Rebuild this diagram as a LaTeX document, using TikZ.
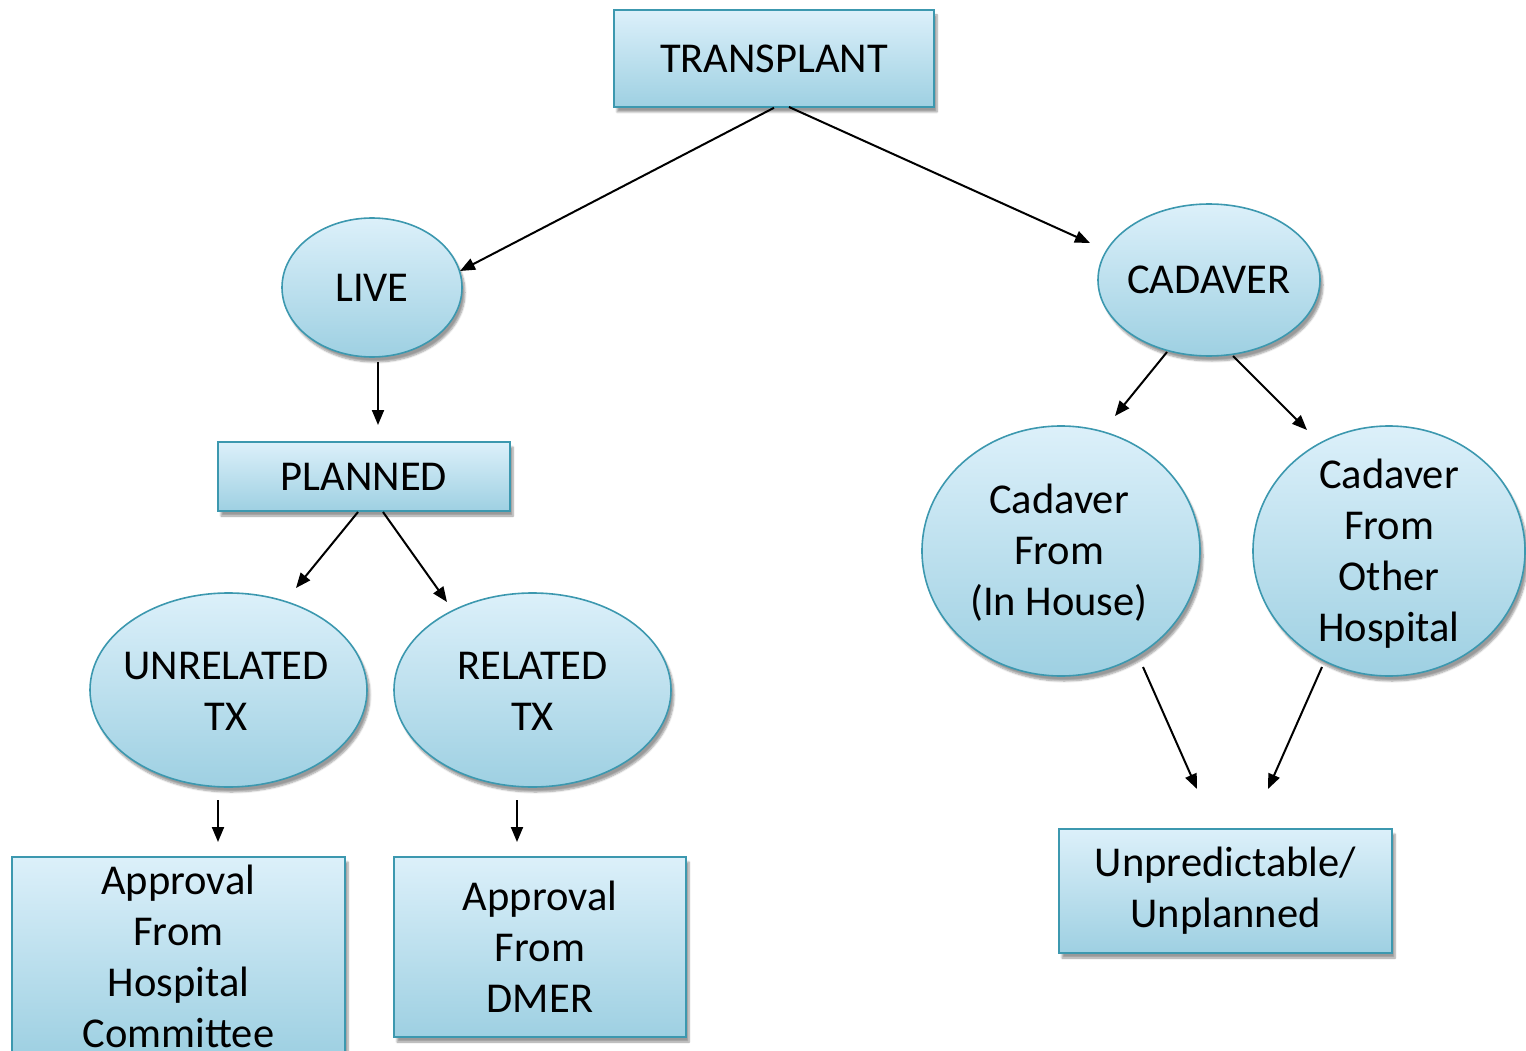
\documentclass[tikz,border=0pt]{standalone}
\usepackage{fontspec}
\setmainfont{Carlito}
\usetikzlibrary{shapes.geometric,arrows.meta,shadows.blur,calc}
\definecolor{boxtop}{RGB}{220,240,250}
\definecolor{boxbot}{RGB}{158,208,226}
\definecolor{boxline}{RGB}{60,152,175}
\tikzset{
  base/.style={draw=boxline, line width=1.6pt, top color=boxtop, bottom color=boxbot,
    align=center, inner sep=0pt, font=\fontsize{42.5}{51}\selectfont,
    blur shadow={shadow xshift=3pt, shadow yshift=-5pt, shadow blur steps=6, shadow opacity=40}},
  rbox/.style={base, rectangle},
  oval/.style={base, ellipse},
  ovaltext/.style={align=center, inner sep=0pt, font=\fontsize{42.5}{51}\selectfont},
  link/.style={line width=2pt, -{Triangle[length=15pt,width=12pt]}}
}
\begin{document}
\begin{tikzpicture}[x=1pt, y=-1pt]
  \useasboundingbox (0,0) rectangle (1526,1051);
  \clip (0,0) rectangle (1526,1051);

  % boxes
  \node[rbox, minimum width=320pt, minimum height=97pt] (transplant) at (774,58.5) {TRANSPLANT};
  \node[rbox, minimum width=292pt, minimum height=69pt] (planned) at (364,476.5) {PLANNED};
  \node[rbox, minimum width=333pt, minimum height=198pt] (appcom) at (178.5,956) {Approval\\From\\Hospital\\Committee};
  \node[rbox, minimum width=292pt, minimum height=180pt] (appdmer) at (540,947) {Approval\\From\\DMER};
  \node[rbox, minimum width=333pt, minimum height=124pt] (unplan) at (1225.5,891) {Unpredictable/\\Unplanned};

  % ellipses (outline first, then the text on top, so the text does not size the shape)
  \node[oval, minimum width=180pt, minimum height=139pt] (live) at (372,287.5) {};
  \node[ovaltext] (live-t) at (live) {LIVE};
  \node[oval, minimum width=222pt, minimum height=152pt] (cadaver) at (1209,280) {};
  \node[ovaltext] (cadaver-t) at (cadaver) {CADAVER};
  \node[oval, minimum width=277pt, minimum height=194pt] (unrel) at (228.5,690) {};
  \node[ovaltext] (unrel-t) at (226,691) {UNRELATED\\TX};
  \node[oval, minimum width=277pt, minimum height=194pt] (rel) at (532.5,690) {};
  \node[ovaltext] (rel-t) at (532.5,691) {RELATED\\TX};
  \node[oval, minimum width=278pt, minimum height=250pt] (inhouse) at (1061,551) {};
  \node[ovaltext] (inhouse-t) at (1059,553) {Cadaver\\From\\(In House)};
  \node[oval, minimum width=272pt, minimum height=250pt] (other) at (1389,551) {};
  \node[ovaltext] (other-t) at (1389,554) {Cadaver\\From\\Other\\Hospital};

  % connectors
  \draw[link] (transplant.south) -- ($(live)+(88,-16.5)$);
  \draw[link] ($(transplant)+(15,48.5)$) -- ($(cadaver)+(-119,-37)$);
  \draw[link] ($(live)+(6,74.5)$) -- ($(planned)+(14,-51.5)$);
  \draw[link] ($(planned)+(-6,35.5)$) -- ($(unrel)+(67.5,-102)$);
  \draw[link] ($(planned)+(19,35.5)$) -- ($(rel)+(-85.5,-88)$);
  \draw[link] ($(unrel)+(-10.5,110)$) -- ($(appcom)+(39.5,-114)$);
  \draw[link] ($(rel)+(-15.5,110)$) -- ($(appdmer)+(-23,-105)$);
  \draw[link] ($(cadaver)+(-42,72)$) -- ($(inhouse)+(54,-135)$);
  \draw[link] ($(cadaver)+(24,76)$) -- ($(other)+(-82,-121)$);
  \draw[link] ($(inhouse)+(82,116)$) -- ($(unplan)+(-28.5,-102)$);
  \draw[link] ($(other)+(-67,116)$) -- ($(unplan)+(42.5,-102)$);
\end{tikzpicture}
\end{document}
